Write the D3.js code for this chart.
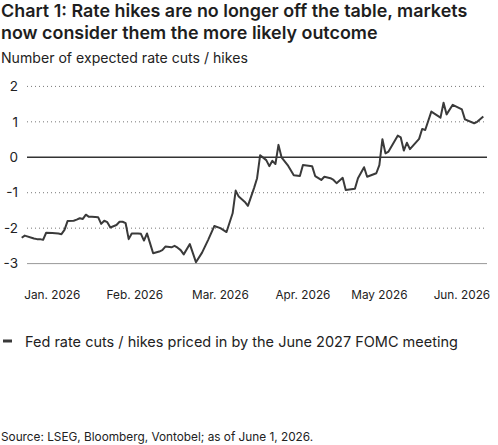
<!DOCTYPE html>
<html>
<head>
<meta charset="utf-8">
<script src="https://cdn.jsdelivr.net/npm/d3@7"></script>
<style>
  body { margin: 0; background: #fff; }
  svg { font-family: Inter, "Noto Sans", sans-serif; }
</style>
</head>
<body>
<div id="chart"></div>
<script>
'use strict';

// series: Fed rate cuts / hikes priced in by the June 2027 FOMC meeting
const dates = [
  '2026-01-01','2026-01-02','2026-01-05','2026-01-06','2026-01-07','2026-01-08','2026-01-09',
  '2026-01-11','2026-01-13','2026-01-14','2026-01-15','2026-01-16','2026-01-18','2026-01-19',
  '2026-01-20','2026-01-21','2026-01-22','2026-01-23','2026-01-24','2026-01-26','2026-01-27',
  '2026-01-28','2026-01-29','2026-01-30','2026-02-01','2026-02-02','2026-02-03','2026-02-04',
  '2026-02-05','2026-02-06','2026-02-08','2026-02-09','2026-02-10','2026-02-11','2026-02-12',
  '2026-02-13','2026-02-15','2026-02-16','2026-02-17','2026-02-19','2026-02-20','2026-02-21',
  '2026-02-22','2026-02-23','2026-02-25','2026-02-27','2026-03-01','2026-03-03','2026-03-05',
  '2026-03-07','2026-03-09','2026-03-11','2026-03-12','2026-03-13','2026-03-15','2026-03-16',
  '2026-03-18','2026-03-19','2026-03-20','2026-03-22','2026-03-23','2026-03-24','2026-03-25',
  '2026-03-26','2026-03-27','2026-03-29','2026-03-31','2026-04-02','2026-04-03','2026-04-06',
  '2026-04-07','2026-04-09','2026-04-10','2026-04-12','2026-04-13','2026-04-14','2026-04-16',
  '2026-04-17','2026-04-20','2026-04-21','2026-04-23','2026-04-24','2026-04-27','2026-04-28',
  '2026-04-29','2026-04-30','2026-05-01','2026-05-04','2026-05-05','2026-05-06','2026-05-07',
  '2026-05-08','2026-05-11','2026-05-12','2026-05-13','2026-05-15','2026-05-18','2026-05-19',
  '2026-05-20','2026-05-22','2026-05-25','2026-05-26','2026-05-29','2026-05-30','2026-06-01'
];
const values = [
  -2.27,-2.21,-2.29,-2.31,-2.31,-2.33,-2.13,
  -2.14,-2.15,-2.17,-2.05,-1.80,-1.79,-1.76,
  -1.72,-1.74,-1.62,-1.68,-1.68,-1.69,-1.88,
  -1.79,-1.83,-1.98,-1.91,-1.82,-1.82,-1.86,
  -2.31,-2.15,-2.15,-2.16,-2.35,-2.15,-2.43,
  -2.71,-2.66,-2.62,-2.52,-2.54,-2.50,-2.55,
  -2.62,-2.74,-2.45,-2.96,-2.69,-2.33,-1.94,
  -2.00,-2.11,-1.58,-0.94,-1.11,-1.26,-1.37,
  -0.87,-0.59,0.06,-0.08,-0.25,-0.10,-0.19,
  0.35,0.00,-0.22,-0.51,-0.53,-0.22,-0.25,
  -0.53,-0.64,-0.55,-0.59,-0.64,-0.73,-0.58,
  -0.92,-0.89,-0.59,-0.28,-0.55,-0.45,-0.22,
  0.51,0.11,0.16,0.61,0.56,0.19,0.41,
  0.23,0.52,0.80,0.77,1.29,1.12,1.54,
  1.21,1.48,1.35,1.07,0.96,1.00,1.15
];

const yTicks = [2, 1, 0, -1, -2, -3];
const monthTickDates = ['2026-01-11','2026-02-07','2026-03-07','2026-04-03','2026-04-28','2026-05-25'];
const monthLabels = ['Jan. 2026','Feb. 2026','Mar. 2026','Apr. 2026','May 2026','Jun. 2026'];

const title = ['Chart 1: Rate hikes are no longer off the table, markets',
               'now consider them the more likely outcome'];
const subtitle = 'Number of expected rate cuts / hikes';
const legendLabel = 'Fed rate cuts / hikes priced in by the June 2027 FOMC meeting';
const source = 'Source: LSEG, Bloomberg, Vontobel; as of June 1, 2026.';

const width = 498, height = 445;
const parse = d3.utcParse('%Y-%m-%d');
const data = dates.map((d, i) => ({ date: parse(d), value: values[i] }));

const svg = d3.select('#chart').append('svg')
  .attr('width', width)
  .attr('height', height);

// title block
svg.append('g').selectAll('text')
  .data(title)
  .join('text')
  .attr('x', 1)
  .attr('y', (d, i) => 17 + i * 21.6)
  .attr('font-size', 17.9)
  .attr('font-weight', 600)
  .attr('fill', '#1e1e1e')
  .text(d => d);

svg.append('text')
  .attr('x', 1).attr('y', 62.5)
  .attr('font-size', 14.1)
  .attr('fill', '#222')
  .text(subtitle);

const x = d3.scaleUtc()
  .domain([parse('2026-01-01'), parse('2026-06-01')])
  .range([21.7, 483.3]);

const y = d3.scaleLinear()
  .domain([-3, 2])
  .range([263.6, 86.4]);

const gridLeft = 27, gridRight = 487;

// horizontal gridlines
svg.append('g').selectAll('line')
  .data(yTicks.filter(d => d !== 0 && d !== -3))
  .join('line')
  .attr('x1', gridLeft).attr('x2', gridRight)
  .attr('y1', d => y(d)).attr('y2', d => y(d))
  .attr('stroke', '#777')
  .attr('stroke-width', 1)
  .attr('stroke-dasharray', '1,3');

// bottom line
svg.append('line')
  .attr('x1', gridLeft).attr('x2', gridRight)
  .attr('y1', y(-3)).attr('y2', y(-3))
  .attr('stroke', '#999')
  .attr('stroke-width', 1);

// y labels
svg.append('g').selectAll('text')
  .data(yTicks)
  .join('text')
  .attr('x', 18)
  .attr('y', d => y(d))
  .attr('dy', '0.35em')
  .attr('text-anchor', 'end')
  .attr('font-size', 13.5)
  .attr('fill', '#222')
  .text(d => d < 0 ? '-' + Math.abs(d) : d);

// x labels
svg.append('g').selectAll('text')
  .data(monthTickDates)
  .join('text')
  .attr('x', d => x(parse(d)))
  .attr('y', 299)
  .attr('text-anchor', 'middle')
  .attr('font-size', 11.8)
  .attr('fill', '#222')
  .text((d, i) => monthLabels[i]);

// zero line
svg.append('line')
  .attr('x1', gridLeft).attr('x2', gridRight)
  .attr('y1', y(0)).attr('y2', y(0))
  .attr('stroke', '#333')
  .attr('stroke-width', 1.6);

// the series
const line = d3.line()
  .x(d => x(d.date))
  .y(d => y(d.value));

svg.append('path')
  .datum(data)
  .attr('fill', 'none')
  .attr('stroke', '#3a3a3a')
  .attr('stroke-width', 2)
  .attr('stroke-linejoin', 'round')
  .attr('d', line);

// legend
svg.append('line')
  .attr('x1', 3).attr('x2', 12)
  .attr('y1', 341).attr('y2', 341)
  .attr('stroke', '#3a3a3a')
  .attr('stroke-width', 3);

svg.append('text')
  .attr('x', 25).attr('y', 346.5)
  .attr('font-size', 14.5)
  .attr('fill', '#222')
  .text(legendLabel);

svg.append('text')
  .attr('x', 1).attr('y', 440.5)
  .attr('font-size', 11.8)
  .attr('fill', '#222')
  .text(source);
</script>
</body>
</html>
